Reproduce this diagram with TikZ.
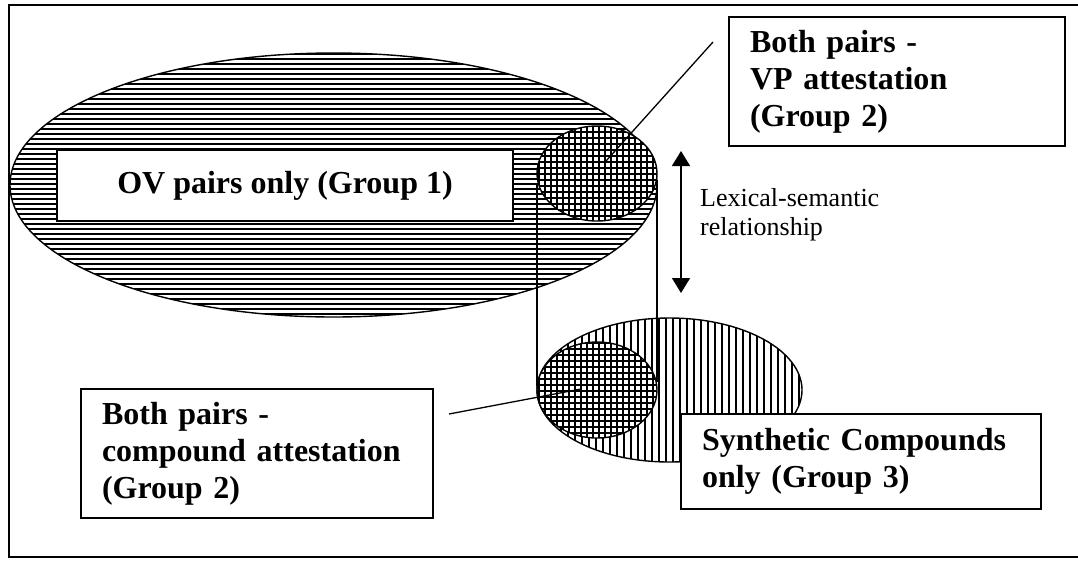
\documentclass[tikz,border=0pt]{standalone}
\usepackage{fontspec}
\setmainfont{Liberation Serif}
\usetikzlibrary{arrows.meta}
\tikzset{
  frameline/.style={line width=1.8pt},
  outline/.style={line width=1.4pt},
  hatchline/.style={line width=1.15pt},
  boxnode/.style={draw, line width=1.8pt, fill=white, align=left,
    font=\fontsize{32}{37}\selectfont\bfseries, inner xsep=21pt, inner ysep=0pt},
  calloutline/.style={line width=1.3pt},
  relarrow/.style={line width=1.5pt, {Triangle[width=18pt,length=15pt]}-{Triangle[width=18pt,length=15pt]}},
  plaintext/.style={font=\fontsize{26}{29}\selectfont, align=left, inner sep=0pt}
}
\begin{document}
\begin{tikzpicture}[x=1pt,y=-1pt]
\useasboundingbox (0,0) rectangle (1078,560);
% frame
\coordinate (ftr) at (1078,5);
\coordinate (ftl) at (9,5);
\coordinate (fbl) at (9,557);
\coordinate (fbr) at (1078,557);
\draw[frameline] (ftr) -- (ftl) -- (fbl) -- (fbr);

% centers
\coordinate (bigc) at (333.5,185);
\coordinate (upc) at (597,173.5);
\coordinate (stc) at (669.5,390);
\coordinate (loc) at (597,390);

% big ellipse, horizontal hatch
\fill[white] (bigc) ellipse [x radius=323.5pt, y radius=132pt];
\begin{scope}
  \clip (bigc) ellipse [x radius=323.5pt, y radius=132pt];
  \foreach \y in {54,59,...,320} \draw[hatchline] (0,\y) -- (700,\y);
\end{scope}
\draw[outline] (bigc) ellipse [x radius=323.5pt, y radius=132pt];

% cylinder lines
\coordinate (cl1) at (537,185);
\coordinate (cl2) at (537,386);
\coordinate (cr1) at (657,180);
\coordinate (cr2) at (657,382);
\draw[outline] (cl1) -- (cl2);
\draw[outline] (cr1) -- (cr2);

% upper small ellipse, cross hatch
\fill[white] (upc) ellipse [x radius=60pt, y radius=47.5pt];
\begin{scope}
  \clip (upc) ellipse [x radius=60pt, y radius=47.5pt];
  \foreach \y in {126,132,...,226} \draw[hatchline] (530,\y) -- (665,\y);
  \foreach \x in {539,545,...,662} \draw[hatchline] (\x,120) -- (\x,230);
\end{scope}
\draw[outline] (upc) ellipse [x radius=60pt, y radius=47.5pt];

% striped ellipse, vertical hatch
\fill[white] (stc) ellipse [x radius=132.5pt, y radius=72pt];
\begin{scope}
  \clip (stc) ellipse [x radius=132.5pt, y radius=72pt];
  \foreach \x in {540,547,...,805} \draw[hatchline] (\x,310) -- (\x,470);
\end{scope}
\draw[outline] (stc) ellipse [x radius=132.5pt, y radius=72pt];
\draw[outline] (657,318) -- (cr2);

% lower small ellipse, cross hatch
\fill[white] (loc) ellipse [x radius=60pt, y radius=48pt];
\begin{scope}
  \clip (loc) ellipse [x radius=60pt, y radius=48pt];
  \foreach \y in {343,349,...,442} \draw[hatchline] (530,\y) -- (665,\y);
  \foreach \x in {539,545,...,662} \draw[hatchline] (\x,335) -- (\x,445);
\end{scope}
\draw[outline] (loc) ellipse [x radius=60pt, y radius=48pt];

% boxes
\node[boxnode, align=center, minimum width=456pt, minimum height=71pt, inner xsep=0pt] (ov) at (285,185.5) {OV pairs only (Group 1)};
\node[boxnode, text width=294pt, minimum height=129pt] (vp) at (897,81.5) {Both pairs -\\VP attestation\\(Group 2)};
\node[boxnode, text width=310pt, minimum height=129pt] (cmp) at (257,453.5) {Both pairs -\\compound attestation\\(Group 2)};
\node[boxnode, text width=318pt, minimum height=95pt] (syn) at (861,461.5) {Synthetic Compounds\\only (Group 3)};

% callouts
\coordinate (vpin) at (606,161);
\coordinate (vpend) at (713,42);
\draw[calloutline] (vpin) -- (vpend);
\coordinate (cmpin) at (581,389);
\coordinate (cmpend) at (449,414);
\draw[calloutline] (cmpin) -- (cmpend);

% relationship arrow
\coordinate (arrtop) at (681,151);
\coordinate (arrbot) at (681,293);
\draw[relarrow] (arrtop) -- (arrbot);
\node[plaintext, anchor=base west] (lex) at (700,235) {Lexical-semantic\\relationship};
\end{tikzpicture}
\end{document}
